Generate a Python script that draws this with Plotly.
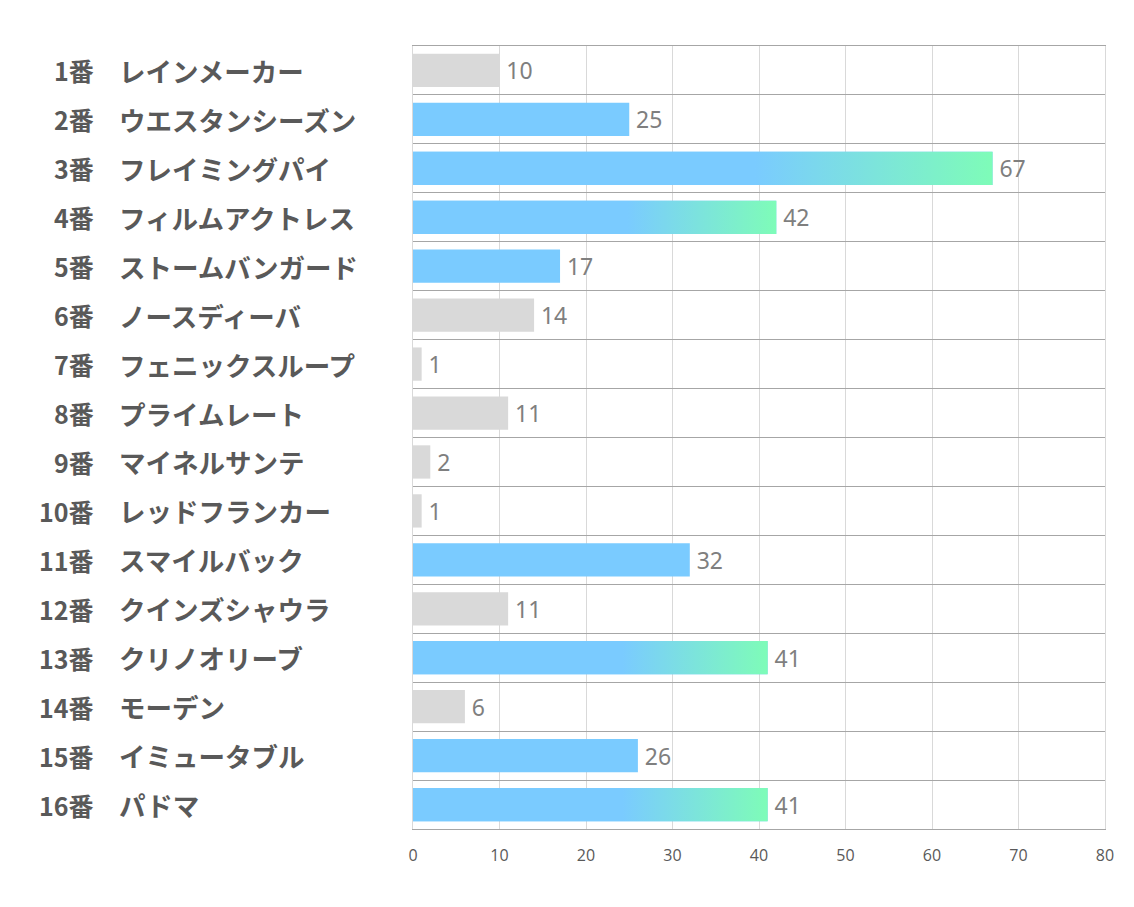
import plotly.graph_objects as go

numbers = ["1番", "2番", "3番", "4番", "5番", "6番", "7番", "8番",
           "9番", "10番", "11番", "12番", "13番", "14番", "15番", "16番"]
names = ["レインメーカー", "ウエスタンシーズン", "フレイミングパイ", "フィルムアクトレス",
         "ストームバンガード", "ノースディーバ", "フェニックスループ", "プライムレート",
         "マイネルサンテ", "レッドフランカー", "スマイルバック", "クインズシャウラ",
         "クリノオリーブ", "モーデン", "イミュータブル", "パドマ"]
values = [10, 25, 67, 42, 17, 14, 1, 11, 2, 1, 32, 11, 41, 6, 26, 41]
# style group: 0 = gray, 1 = blue, 2 = blue->green gradient
groups = [0, 1, 2, 2, 1, 0, 0, 0, 0, 0, 1, 0, 2, 0, 1, 2]
x_ticks = [0, 10, 20, 30, 40, 50, 60, 70, 80]

GRAY = "#d9d9d9"
BLUE = "#7acbff"
GREEN = "#7efcb8"
BAR_W = 0.68

idx = list(range(len(values)))
colors = [GRAY if g == 0 else BLUE for g in groups]

fig = go.Figure()
fig.add_trace(go.Bar(
    x=values, y=idx, orientation="h", width=BAR_W,
    marker=dict(color=colors, line=dict(width=0)),
    text=["\u2009" + str(v) for v in values], textposition="outside",
    textfont=dict(family="Noto Sans, Open Sans", size=23, color="#7f7f7f"),
    cliponaxis=False, hoverinfo="skip",
))

for i, (v, g) in enumerate(zip(values, groups)):
    if g != 2:
        continue
    y0, y1 = i - BAR_W / 2, i + BAR_W / 2
    fig.add_trace(go.Scatter(
        x=[0, v, v, 0, 0], y=[y0, y0, y1, y1, y0],
        mode="lines", line=dict(width=0), fill="toself",
        fillgradient=dict(type="horizontal",
                          colorscale=[[0, BLUE], [0.59, BLUE], [1, GREEN]]),
        hoverinfo="skip", showlegend=False,
    ))

for i, (n, nm) in enumerate(zip(numbers, names)):
    fig.add_annotation(x=0, xref="paper", y=i, yref="y", xshift=-317,
                       xanchor="right", text=n, showarrow=False,
                       font=dict(family="Noto Sans CJK JP", size=25, color="#595959",
                                 weight="bold"))
    fig.add_annotation(x=0, xref="paper", y=i, yref="y", xshift=-296,
                       xanchor="left", text=nm, showarrow=False,
                       font=dict(family="Noto Sans CJK JP", size=26.5, color="#595959",
                                 weight="bold"))

fig.update_layout(
    width=1134, height=907,
    margin=dict(l=405, r=37, t=38, b=86),
    plot_bgcolor="white", paper_bgcolor="white",
    showlegend=False,
    xaxis=dict(range=[0, 80], tickvals=x_ticks, showgrid=True, gridcolor="#d9d9d9",
               gridwidth=1, zeroline=False,
               showline=True, mirror=True, linecolor="#a6a6a6", linewidth=1,
               ticks="outside", ticklen=12, tickcolor="rgba(0,0,0,0)",
               tickfont=dict(family="Open Sans, Noto Sans", size=16, color="#595959"),
               fixedrange=True),
    yaxis=dict(range=[len(values) - 0.5, -0.5],
               tickvals=[i - 0.5 for i in range(len(values) + 1)],
               showticklabels=False, showgrid=True, gridcolor="#a6a6a6", gridwidth=1,
               zeroline=False, showline=True, mirror=True, linecolor="#d9d9d9",
               ticks="", fixedrange=True),
)

fig.write_html("out.html")
